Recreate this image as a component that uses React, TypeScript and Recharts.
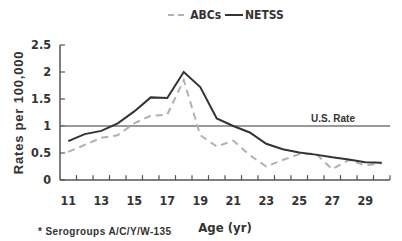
import React from 'react';
import { LineChart, Line, XAxis, YAxis, ReferenceLine, Legend } from 'recharts';

const ages = [11, 12, 13, 14, 15, 16, 17, 18, 19, 20, 21, 22, 23, 24, 25, 26, 27, 28, 29, 30];
const abcs = [0.52, 0.65, 0.78, 0.83, 1.05, 1.19, 1.21, 1.85, 0.83, 0.62, 0.73, 0.46, 0.25, 0.37, 0.48, 0.49, 0.2, 0.37, 0.27, 0.31];
const netss = [0.72, 0.85, 0.91, 1.05, 1.27, 1.53, 1.52, 2.0, 1.72, 1.14, 1.0, 0.88, 0.67, 0.57, 0.51, 0.47, 0.42, 0.38, 0.33, 0.32];
const ageLabels = [11, 13, 15, 17, 19, 21, 23, 25, 27, 29];
const ageMarks = [11.5, 12.5, 13.5, 14.5, 15.5, 16.5, 17.5, 18.5, 19.5, 20.5, 21.5, 22.5, 23.5, 24.5, 25.5, 26.5, 27.5, 28.5, 29.5, 30.5];
const rateTicks = [0, 0.5, 1, 1.5, 2, 2.5];
const usRate = 1;

const data = ages.map((age, i) => ({ age, abcs: abcs[i], netss: netss[i] }));

const ageMin = 10.5;
const ageMax = 30.5;
// inward tick mark lengths, in axis units (about 5px each)
const xMarkLen = 0.09;
const yMarkLen = 0.3;

const narrow = "'DejaVu Sans Condensed', 'Liberation Sans Narrow', sans-serif";
const sans = "'Liberation Sans', Arial, sans-serif";
const ink = '#333';
const axisColor = '#555';

function AgeTick(props: any) {
  const { x, y, payload } = props;
  return (
    <text x={x} y={y + 25} textAnchor="middle" fontFamily={narrow} fontWeight={700} fontSize={12.5} fill={ink}>
      {payload.value}
    </text>
  );
}

function LegendBox() {
  return (
    <div style={{ width: 402, height: 40, display: 'flex', justifyContent: 'center', paddingLeft: 50, boxSizing: 'border-box', fontFamily: narrow, fontWeight: 700, fontSize: 12, color: ink }}>
      <div style={{ display: 'flex', alignItems: 'center', height: 20 }}>
        <svg width={20} height={4}><line x1={0} y1={2} x2={20} y2={2} stroke="#b0b0b0" strokeWidth={2} strokeDasharray="6 4" /></svg>
        <span style={{ marginLeft: 2, marginRight: 4 }}>ABCs</span>
        <svg width={18} height={4}><line x1={0} y1={2} x2={18} y2={2} stroke={ink} strokeWidth={2} /></svg>
        <span style={{ marginLeft: 2 }}>NETSS</span>
      </div>
    </div>
  );
}

export default function App() {
  return (
    <div style={{ position: 'absolute', left: 0, top: 0, width: 402, height: 241, background: '#fff' }}>
      <LineChart width={402} height={241} data={data} margin={{ top: 5, right: 12, left: 0, bottom: 0 }}>
        <Legend verticalAlign="top" content={() => <LegendBox />} />
        <XAxis
          dataKey="age"
          type="number"
          domain={[ageMin, ageMax]}
          ticks={ageLabels}
          interval={0}
          height={61}
          tickLine={false}
          tickSize={0}
          tickMargin={0}
          axisLine={{ stroke: axisColor, strokeWidth: 1.5 }}
          tick={<AgeTick />}
          label={{
            content: ({ viewBox }: any) => (
              <g>
                <text x={viewBox.x + viewBox.width / 2} y={viewBox.y + 52} textAnchor="middle" fontFamily={narrow} fontWeight={700} fontSize={13} fill={ink}>Age (yr)</text>
                <text x={38} y={viewBox.y + 55} fontFamily={sans} fontWeight={700} fontSize={10} letterSpacing={0.4} fill={ink}>* Serogroups A/C/Y/W-135</text>
              </g>
            ),
          }}
        />
        <YAxis
          domain={[0, 2.5]}
          ticks={rateTicks}
          width={60}
          tickLine={false}
          tickSize={0}
          tickMargin={9}
          axisLine={{ stroke: axisColor, strokeWidth: 1.5 }}
          tick={{ fontFamily: narrow, fontWeight: 700, fontSize: 12.5, fill: ink }}
          label={{
            content: ({ viewBox }: any) => (
              <text
                x={18}
                y={viewBox.y + viewBox.height / 2}
                transform={`rotate(-90 18 ${viewBox.y + viewBox.height / 2})`}
                textAnchor="middle"
                dominantBaseline="central"
                fontFamily={sans}
                fontWeight={700}
                fontSize={13}
                letterSpacing={0.8}
                fill={ink}
              >
                Rates per 100,000
              </text>
            ),
          }}
        />
        {ageMarks.map((a) => (
          <ReferenceLine key={`xm${a}`} segment={[{ x: a, y: 0 }, { x: a, y: xMarkLen }]} stroke={axisColor} strokeWidth={1.2} />
        ))}
        {rateTicks.map((r) => (
          <ReferenceLine key={`ym${r}`} segment={[{ x: ageMin, y: r }, { x: ageMin + yMarkLen, y: r }]} stroke={axisColor} strokeWidth={1.2} />
        ))}
        <ReferenceLine
          y={usRate}
          stroke="#777"
          strokeWidth={1.5}
          label={{
            content: ({ viewBox }: any) => (
              <text x={viewBox.x + viewBox.width - 35} y={viewBox.y - 4} textAnchor="end" fontFamily={sans} fontWeight={700} fontSize={10} fill={ink}>U.S. Rate</text>
            ),
          }}
        />
        <Line dataKey="abcs" name="ABCs" stroke="#b0b0b0" strokeWidth={2} strokeDasharray="7 5" dot={false} isAnimationActive={false} />
        <Line dataKey="netss" name="NETSS" stroke={ink} strokeWidth={2} dot={false} isAnimationActive={false} />
      </LineChart>
    </div>
  );
}
